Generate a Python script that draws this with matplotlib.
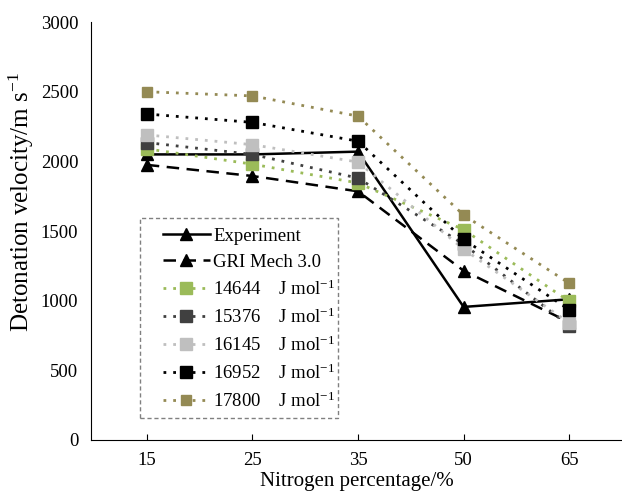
import matplotlib
matplotlib.use("Agg")
import matplotlib.pyplot as plt
from matplotlib.patches import Rectangle

plt.rcParams["font.family"] = ["Liberation Serif", "DejaVu Serif"]
plt.rcParams["mathtext.fontset"] = "custom"
plt.rcParams["mathtext.rm"] = "Liberation Serif"
plt.rcParams["mathtext.it"] = "Liberation Serif:italic"

nitrogen = ["15", "25", "35", "50", "65"]
experiment = [2050, 2050, 2070, 955, 1010]
gri_mech = [1975, 1895, 1785, 1215, 845]
e_14644 = [2090, 1980, 1845, 1510, 995]
e_15376 = [2135, 2050, 1880, 1405, 820]
e_16145 = [2190, 2120, 1995, 1370, 840]
e_16952 = [2340, 2280, 2145, 1440, 935]
e_17800 = [2500, 2470, 2325, 1615, 1125]

x = list(range(len(nitrogen)))

fig = plt.figure(figsize=(6.22, 4.91), dpi=100)
ax = fig.add_axes([0.146, 0.104, 0.854, 0.851])

ax.plot(x, experiment, color="black", lw=1.8, ls="-", marker="^", ms=9, label="Experiment")
ax.plot(x, gri_mech, color="black", lw=1.8, ls=(0, (5, 3)), marker="^", ms=9, label="GRI Mech 3.0")

unit = r"J mol$^{-1}$"
series = [
    ("14644", e_14644, "#9BBB59"),
    ("15376", e_15376, "#404040"),
    ("16145", e_16145, "#BFBFBF"),
    ("16952", e_16952, "black"),
    ("17800", e_17800, "#948A54"),
]
for name, vals, col in series:
    ax.plot(x, vals, color=col, lw=2.0, ls=(0, (1, 2.5)), marker="s",
            ms=8 if name != "17800" else 6.5, label=f"{name}    {unit}")

ax.set_xlim(-0.53, 4.5)
ax.set_ylim(0, 3000)
ax.set_yticks(range(0, 3001, 500))
ax.set_xticks(x)
ax.set_xticklabels(nitrogen)
ax.tick_params(axis="x", direction="in", length=4, labelsize=13.5, pad=9)
ax.tick_params(axis="y", length=0, labelsize=13.5, pad=9)
ax.spines["top"].set_visible(False)
ax.spines["right"].set_visible(False)
ax.set_xlabel("Nitrogen percentage/%", fontsize=15, labelpad=2)
ax.set_ylabel(r"Detonation velocity/m s$^{-1}$", fontsize=18)
ax.yaxis.set_label_coords(-0.103, 0.57)

# legend without its own frame, dashed box drawn separately
leg = ax.legend(loc="upper left", bbox_to_anchor=(0.1356, 0.508), fontsize=13.5,
                frameon=False, handlelength=2.5, handletextpad=0.2,
                labelspacing=0.46, borderpad=0, borderaxespad=0)
box = Rectangle((0.092, 0.053), 0.373, 0.478, transform=ax.transAxes,
                fill=False, edgecolor="#808080", lw=1.0, ls=(0, (3, 2)), zorder=1)
ax.add_patch(box)

fig.savefig("out.png", dpi=100)
